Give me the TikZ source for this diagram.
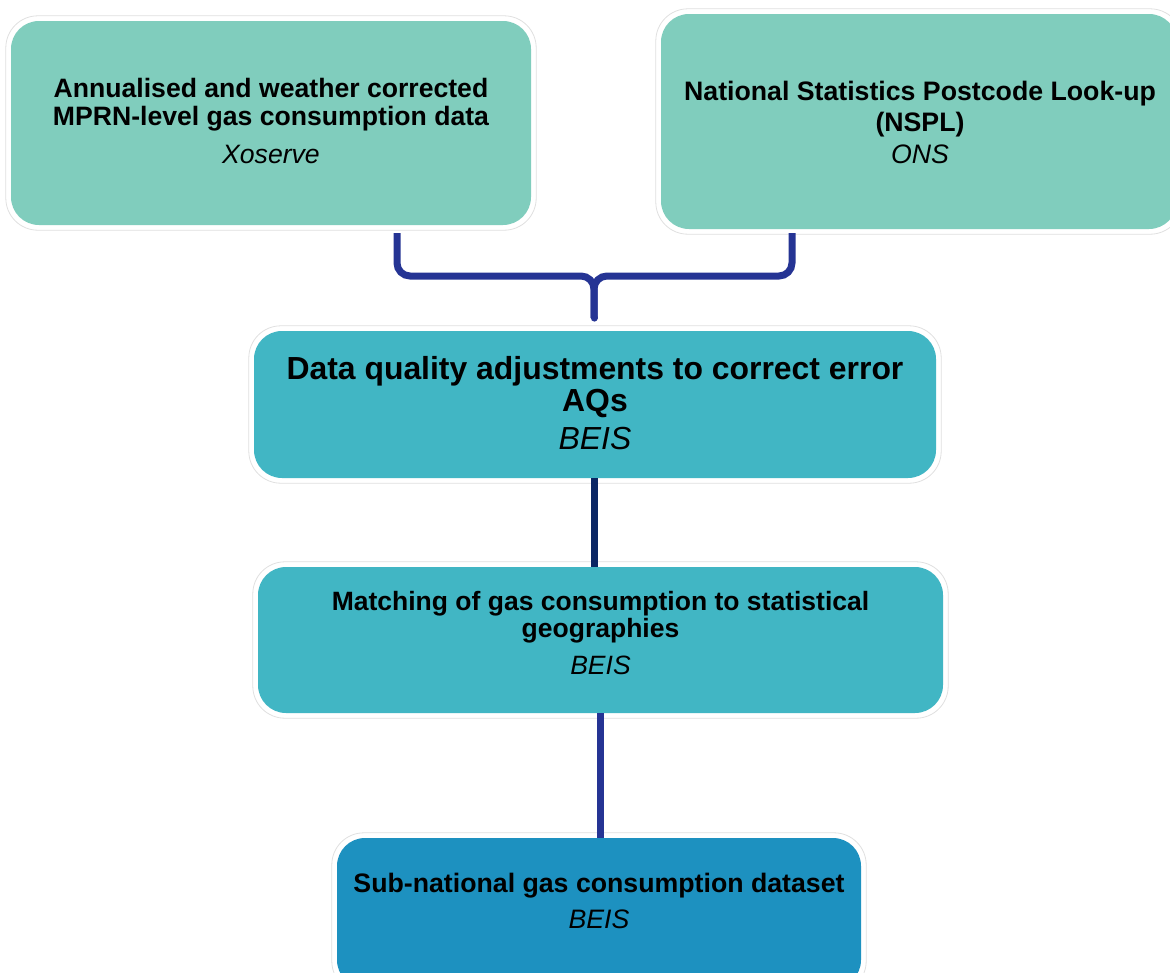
\documentclass[tikz,border=0pt]{standalone}
\usepackage{fontspec}
\setmainfont{Liberation Sans}
\usetikzlibrary{fit,backgrounds}
\definecolor{tealA}{RGB}{128,205,189}
\definecolor{tealB}{RGB}{65,182,196}
\definecolor{blueC}{RGB}{29,145,192}
\definecolor{navy}{RGB}{37,52,148}
\definecolor{darknavy}{RGB}{10,38,100}
\tikzset{
  box/.style={rounded corners=28pt, inner sep=0pt, text=black, align=center},
  halo/.style={rounded corners=32pt, draw=black!12, line width=0.8pt, fill=white, inner sep=5pt},
  conn/.style={line width=7pt, navy},
}
\begin{document}
\begin{tikzpicture}[x=1pt,y=-1pt]
\useasboundingbox (0,0) rectangle (1170,972);
% boxes
\node[box, fill=tealA, minimum width=520pt, minimum height=204pt] (a) at (271,123)
 {\raisebox{-8.6pt}[0pt][0pt]{\fontsize{26.6}{28}\selectfont\begin{tabular}{@{}c@{}}\bfseries Annualised and weather corrected\\[0pt]\bfseries MPRN-level gas consumption data\\[10pt]\itshape Xoserve\end{tabular}}};
\node[box, fill=tealA, minimum width=516pt, minimum height=215pt] (b) at (919,121.5)
 {\hspace*{2pt}\raisebox{-10.6pt}[0pt][0pt]{\fontsize{26.7}{31}\selectfont\begin{tabular}{@{}c@{}}\bfseries National Statistics Postcode Look-up\\[0pt]\bfseries (NSPL)\\[1pt]\itshape ONS\end{tabular}}};
\node[box, fill=tealB, minimum width=682pt, minimum height=147pt] (c) at (595,404.5)
 {\raisebox{-9.5pt}[0pt][0pt]{\fontsize{31.9}{32}\selectfont\begin{tabular}{@{}c@{}}\bfseries Data quality adjustments to correct error\\[0pt]\bfseries AQs\\[6pt]\itshape BEIS\end{tabular}}};
\node[box, fill=tealB, minimum width=685pt, minimum height=146pt] (d) at (600.5,640)
 {\raisebox{-3.1pt}[0pt][0pt]{\fontsize{26.5}{28}\selectfont\begin{tabular}{@{}c@{}}\bfseries Matching of gas consumption to statistical\\[-1pt]\bfseries geographies\\[9pt]\itshape BEIS\end{tabular}}};
\node[box, fill=blueC, minimum width=524pt, minimum height=150pt] (e) at (599,913)
 {\raisebox{2pt}[0pt][0pt]{\fontsize{26.7}{28}\selectfont\begin{tabular}{@{}c@{}}\bfseries Sub-national gas consumption dataset\\[8pt]\itshape BEIS\end{tabular}}};
% halos
\begin{scope}[on background layer]
\node[halo, fit=(a)] (ha) {};
\node[halo, fit=(b)] (hb) {};
\node[halo, fit=(c)] (hc) {};
\node[halo, fit=(d)] (hd) {};
\node[halo, fit=(e)] (he) {};
\end{scope}
% bracket
\coordinate (lx) at (397,0);
\coordinate (rx) at (792,0);
\coordinate (mid) at (594,276);
\coordinate (stem) at (594,318);
\draw[conn, rounded corners=13pt] ([yshift=-8pt]a.south -| lx) |- (mid) -- (stem);
\draw[conn, rounded corners=13pt] ([yshift=-4pt]b.south -| rx) |- (mid) -- (stem);
\draw[conn, line cap=round] (stem) -- ++(0,0.1);
% straight connectors
\draw[line width=7pt, darknavy] ([xshift=-1pt]c.south) -- ([xshift=-1pt]c.south |- d.north);
\draw[conn] ([xshift=-0.5pt]d.south) -- ([xshift=-0.5pt]d.south |- e.north);
\end{tikzpicture}
\end{document}
